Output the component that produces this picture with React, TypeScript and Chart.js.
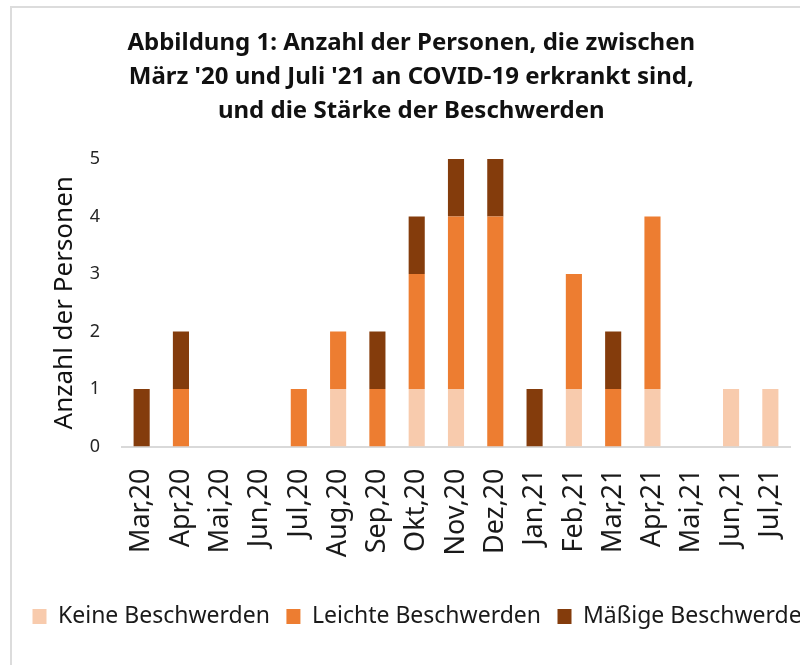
import React, { useEffect, useRef } from "react";
import { Chart, registerables, Legend } from "chart.js";

Chart.register(...registerables);

const categories = [
  "Mar,20", "Apr,20", "Mai,20", "Jun,20", "Jul,20", "Aug,20", "Sep,20", "Okt,20", "Nov,20",
  "Dez,20", "Jan,21", "Feb,21", "Mar,21", "Apr,21", "Mai,21", "Jun,21", "Jul,21",
];
const keineBeschwerden = [0, 0, 0, 0, 0, 1, 0, 1, 1, 0, 0, 1, 0, 1, 0, 1, 1];
const leichteBeschwerden = [0, 1, 0, 0, 1, 1, 1, 2, 3, 4, 0, 2, 1, 3, 0, 0, 0];
const maessigeBeschwerden = [1, 1, 0, 0, 0, 0, 1, 1, 1, 1, 1, 0, 1, 0, 0, 0, 0];
const seriesNames = ["Keine Beschwerden", "Leichte Beschwerden", "Mäßige Beschwerden"];
const seriesColors = ["#F8CBAD", "#ED7D31", "#843C0C"];
const titleLines = [
  "Abbildung 1: Anzahl der Personen, die zwischen",
  "März '20 und Juli '21 an COVID-19 erkrankt sind,",
  "und die Stärke der Beschwerden",
];
const yTitle = "Anzahl der Personen";

const FONT = "'Noto Sans', 'Open Sans', sans-serif";

// Keep the legend on a single row (the reference legend runs past the right edge).
const LegendElement = (Legend as any)._element;
if (LegendElement && !LegendElement.prototype.__noWrap) {
  LegendElement.prototype.__noWrap = true;
  const origFit = LegendElement.prototype._fitRows;
  LegendElement.prototype._fitRows = function (...args: any[]) {
    const mw = this.maxWidth;
    this.maxWidth = 5000;
    const r = origFit.apply(this, args);
    this.maxWidth = mw;
    return r;
  };
  const origDraw = LegendElement.prototype._draw;
  LegendElement.prototype._draw = function (...args: any[]) {
    const right = this.right;
    this.right = 5000;
    try {
      return origDraw.apply(this, args);
    } finally {
      this.right = right;
    }
  };
}

export default function App() {
  const ref = useRef<HTMLCanvasElement | null>(null);

  useEffect(() => {
    if (!ref.current) return;
    const values = [keineBeschwerden, leichteBeschwerden, maessigeBeschwerden];
    const chart = new Chart(ref.current, {
      type: "bar",
      data: {
        labels: categories,
        datasets: values.map((v, i) => ({
          label: seriesNames[i],
          data: v,
          backgroundColor: seriesColors[i],
          borderWidth: 0,
          barPercentage: 0.41,
          categoryPercentage: 1,
          yAxisID: "y",
        })),
      },
      options: {
        animation: false,
        responsive: false,
        maintainAspectRatio: false,
        layout: { padding: { left: 16, right: -6.5, top: 9, bottom: 27 } },
        plugins: {
          title: {
            display: true,
            text: titleLines,
            color: "#111",
            font: { family: FONT, size: 24, weight: "bold", lineHeight: 1.417 },
            padding: { top: 17.5, bottom: 30.5 },
          },
          legend: {
            position: "bottom",
            align: "start",
            labels: {
              boxWidth: 14,
              boxHeight: 15,
              padding: 16.5,
              color: "#1a1a1a",
              font: { family: FONT, size: 23 },
            },
          },
          tooltip: { enabled: false },
        },
        scales: {
          x: {
            stacked: true,
            grid: { display: false, drawTicks: false },
            border: { display: true, color: "#d9d9d9", width: 2 },
            ticks: {
              color: "#1a1a1a",
              font: { family: FONT, size: 27 },
              minRotation: 90,
              maxRotation: 90,
              padding: 22,
              autoSkip: false,
            },
            afterFit: (s: any) => {
              s.height = 142;
              s.paddingLeft = 0;
              s.paddingRight = 0;
            },
          },
          y: {
            stacked: true,
            min: 0,
            max: 5,
            grid: { display: false, drawTicks: false },
            border: { display: false },
            ticks: {
              stepSize: 1,
              color: "#262626",
              font: { family: FONT, size: 18 },
              padding: 22,
            },
            title: {
              display: true,
              text: yTitle,
              color: "#111",
              font: { family: FONT, size: 26 },
              padding: { top: 32.5, bottom: 0 },
            },
            afterFit: (s: any) => {
              s.width = 106;
            },
          },
          yRightSpacer: {
            type: "linear",
            position: "right",
            display: true,
            grid: { display: false, drawTicks: false },
            border: { display: false },
            ticks: { display: false },
            afterFit: (s: any) => {
              s.width = 16.5;
              s.paddingTop = 0;
              s.paddingBottom = 0;
            },
          },
        },
      },
    });
    return () => chart.destroy();
  }, []);

  return (
    <div style={{ position: "absolute", left: 0, top: 0, width: 800, height: 665, overflow: "hidden", background: "#fff" }}>
      <div
        style={{
          position: "absolute",
          left: 10,
          top: 6,
          width: 820,
          height: 700,
          borderTop: "2px solid #dcdcdc",
          borderLeft: "2px solid #dcdcdc",
        }}
      />
      <canvas ref={ref} width={800} height={665} style={{ position: "absolute", left: 0, top: 0 }} />
    </div>
  );
}
